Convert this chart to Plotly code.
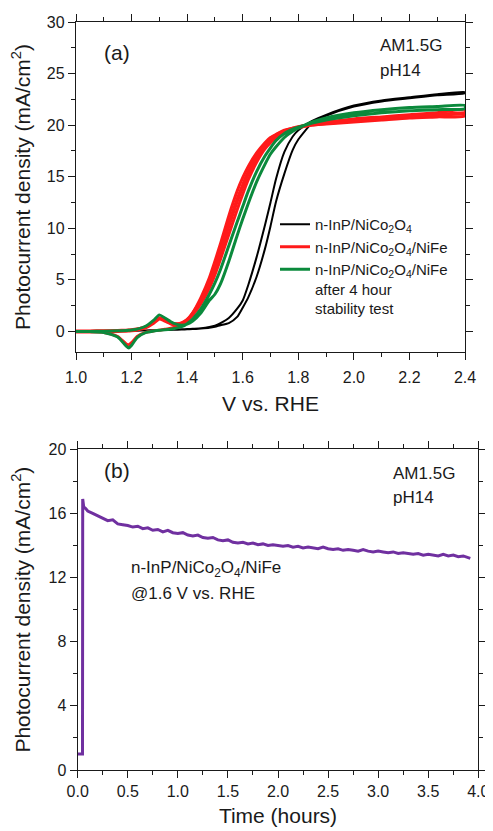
import plotly.graph_objects as go

# ---------------- data: panel (a) cyclic voltammograms ----------------
V_GRID = [1.00, 1.05, 1.10, 1.15, 1.18, 1.19, 1.20, 1.22, 1.25, 1.28, 1.30, 1.32,
          1.35, 1.38, 1.40, 1.42, 1.45, 1.48, 1.50, 1.52, 1.55, 1.58, 1.60, 1.62,
          1.65, 1.68, 1.70, 1.72, 1.75, 1.78, 1.80, 1.85, 1.90, 2.00, 2.10, 2.20,
          2.30, 2.40]

BLACK_FWD = [0.0, 0.0, 0.02, 0.04, 0.05, 0.05, 0.06, 0.07, 0.08, 0.10, 0.12, 0.13,
             0.15, 0.17, 0.20, 0.22, 0.28, 0.36, 0.45, 0.60, 0.80, 1.40, 2.30, 3.30,
             5.30, 8.00, 10.2, 12.6, 15.3, 17.6, 18.6, 20.2, 20.9, 21.8, 22.3, 22.6,
             22.9, 23.1]
BLACK_REV = [0.0, 0.0, 0.02, 0.04, 0.05, 0.05, 0.06, 0.07, 0.09, 0.11, 0.13, 0.15,
             0.17, 0.20, 0.22, 0.25, 0.30, 0.42, 0.55, 0.80, 1.30, 2.20, 3.00, 4.50,
             7.20, 10.3, 12.5, 14.8, 17.4, 18.9, 19.5, 20.4, 21.0, 21.9, 22.4, 22.7,
             23.0, 23.2]

RED_FWD = [0.0, 0.0, 0.02, 0.05, 0.08, 0.10, 0.12, 0.20, 0.40, 0.90, 1.30, 1.10,
           0.75, 0.80, 1.10, 1.60, 2.70, 4.20, 5.50, 7.00, 9.40, 11.8, 13.3, 14.7,
           16.4, 17.7, 18.3, 18.8, 19.3, 19.6, 19.8, 20.1, 20.3, 20.6, 20.8, 21.0,
           21.2, 21.5]
RED_MID = [0.0, 0.0, 0.01, 0.04, 0.07, 0.09, 0.11, 0.18, 0.38, 0.85, 1.25, 1.05,
           0.70, 0.78, 1.10, 1.70, 3.00, 4.70, 6.10, 7.70, 10.3, 12.7, 14.1, 15.4,
           16.9, 18.0, 18.6, 19.0, 19.4, 19.65, 19.8, 20.05, 20.2, 20.45, 20.65, 20.85,
           21.0, 21.15]
RED_REV = [0.0, -0.02, -0.10, -0.50, -1.20, -1.30, -1.10, -0.50, -0.10, 0.05, 0.12, 0.20,
           0.35, 0.70, 1.10, 1.80, 3.30, 5.20, 6.80, 8.50, 11.2, 13.6, 14.9, 16.0,
           17.3, 18.3, 18.8, 19.1, 19.5, 19.7, 19.8, 20.0, 20.1, 20.3, 20.5, 20.7,
           20.8, 20.9]

GREEN_FWD = [0.0, 0.0, 0.02, 0.05, 0.08, 0.10, 0.13, 0.22, 0.50, 1.10, 1.60, 1.30,
             0.80, 0.60, 0.70, 1.00, 1.80, 3.00, 3.60, 4.60, 6.80, 9.30, 10.9, 12.4,
             14.5, 16.2, 17.2, 17.9, 18.8, 19.4, 19.7, 20.3, 20.7, 21.2, 21.5, 21.7,
             21.8, 21.9]
GREEN_REV = [0.0, -0.02, -0.10, -0.55, -1.40, -1.60, -1.35, -0.60, -0.12, 0.03, 0.10, 0.15,
             0.25, 0.45, 0.75, 1.20, 2.20, 3.60, 4.70, 6.00, 8.30, 10.6, 12.1, 13.6,
             15.5, 17.0, 17.8, 18.5, 19.2, 19.6, 19.8, 20.2, 20.5, 20.9, 21.2, 21.4,
             21.5, 21.6]

LEGEND_NAMES = ["n-InP/NiCo<sub>2</sub>O<sub>4</sub>",
                "n-InP/NiCo<sub>2</sub>O<sub>4</sub>/NiFe",
                "n-InP/NiCo<sub>2</sub>O<sub>4</sub>/NiFe<br>after 4 hour<br>stability test"]

# ---------------- data: panel (b) stability test ----------------
T_HOURS = [0.00, 0.048, 0.05, 0.06, 0.08, 0.10, 0.15, 0.20, 0.25, 0.30, 0.35, 0.40,
           0.45, 0.50, 0.55, 0.60, 0.65, 0.70, 0.75, 0.80, 0.85, 0.90, 0.95, 1.00,
           1.05, 1.10, 1.15, 1.20, 1.25, 1.30, 1.35, 1.40, 1.45, 1.50, 1.55, 1.60,
           1.65, 1.70, 1.75, 1.80, 1.85, 1.90, 1.95, 2.00, 2.05, 2.10, 2.15, 2.20,
           2.25, 2.30, 2.35, 2.40, 2.45, 2.50, 2.55, 2.60, 2.65, 2.70, 2.75, 2.80,
           2.85, 2.90, 2.95, 3.00, 3.05, 3.10, 3.15, 3.20, 3.25, 3.30, 3.35, 3.40,
           3.45, 3.50, 3.55, 3.60, 3.65, 3.70, 3.75, 3.80, 3.85, 3.90, 3.92]
J_STAB = [1.0, 1.0, 16.9, 16.4, 16.3, 16.15, 16.0, 15.85, 15.75, 15.55, 15.6, 15.35,
          15.3, 15.25, 15.15, 15.2, 15.05, 15.1, 14.95, 15.0, 14.85, 14.95, 14.8, 14.75,
          14.8, 14.65, 14.6, 14.65, 14.5, 14.45, 14.5, 14.35, 14.3, 14.35, 14.2, 14.15,
          14.2, 14.1, 14.15, 14.05, 14.1, 14.0, 14.05, 14.0, 13.95, 14.0, 13.9, 13.95,
          13.85, 13.9, 13.85, 13.8, 13.9, 13.8, 13.75, 13.8, 13.7, 13.75, 13.7, 13.65,
          13.75, 13.65, 13.6, 13.65, 13.6, 13.55, 13.6, 13.5, 13.55, 13.5, 13.45, 13.5,
          13.4, 13.45, 13.4, 13.35, 13.45, 13.35, 13.4, 13.3, 13.35, 13.25, 13.2]

# ---------------- figure ----------------
PAGE_OFF = 8                      # default body margin of the html page
W, H = 493 - PAGE_OFF, 831 - PAGE_OFF
FONT = "Liberation Sans, Arial, sans-serif"
INK = "#1a1a1a"


def fx(p):
    return (p - PAGE_OFF) / W


def fy(p):
    return 1 - (p - PAGE_OFF) / H


BLACK, RED, GREEN, PURPLE = "#000000", "#ff1a1a", "#0b8a3c", "#7030a0"

fig = go.Figure()


def loop(fwd, rev):
    return V_GRID + V_GRID[::-1], fwd + rev[::-1]


x, y = loop(BLACK_FWD, BLACK_REV)
fig.add_trace(go.Scatter(x=x, y=y, mode="lines", name=LEGEND_NAMES[0],
                         line=dict(color=BLACK, width=2, shape="spline", smoothing=0.6),
                         xaxis="x", yaxis="y"))
x, y = loop(RED_FWD, RED_REV)
fig.add_trace(go.Scatter(x=x, y=y, mode="lines", name=LEGEND_NAMES[1],
                         line=dict(color=RED, width=3, shape="spline", smoothing=0.6),
                         xaxis="x", yaxis="y"))
fig.add_trace(go.Scatter(x=V_GRID, y=RED_MID, mode="lines", showlegend=False,
                         line=dict(color=RED, width=4, shape="spline", smoothing=0.6),
                         xaxis="x", yaxis="y"))
x, y = loop(GREEN_FWD, GREEN_REV)
fig.add_trace(go.Scatter(x=x, y=y, mode="lines", name=LEGEND_NAMES[2],
                         line=dict(color=GREEN, width=3, shape="spline", smoothing=0.6),
                         xaxis="x", yaxis="y"))

fig.add_trace(go.Scatter(x=T_HOURS, y=J_STAB, mode="lines", showlegend=False,
                         line=dict(color=PURPLE, width=3),
                         xaxis="x2", yaxis="y2"))

base = dict(showline=True, linecolor=INK, linewidth=1.3, mirror="allticks",
            ticks="outside", ticklen=7, tickwidth=1.3, tickcolor=INK,
            showgrid=False, zeroline=False, automargin=False,
            tickfont=dict(family=FONT, size=16, color=INK))
title_font = dict(family=FONT, size=21, color=INK)
ytitle = "Photocurrent density (mA/cm<sup>2</sup>)"


def minor(d):
    return dict(dtick=d, ticks="outside", ticklen=4, tickwidth=1.3, tickcolor=INK,
                showgrid=False)


fig.update_layout(
    width=W, height=H,
    margin=dict(l=0, r=0, t=0, b=0),
    paper_bgcolor="white", plot_bgcolor="white",
    font=dict(family=FONT, color=INK),
    showlegend=True,
    legend=dict(x=fx(275), y=fy(208), xanchor="left", yanchor="top",
                bgcolor="rgba(0,0,0,0)", font=dict(family=FONT, size=15, color=INK),
                valign="top"),
    xaxis=dict(domain=[fx(76), fx(465)], range=[1.0, 2.4], tick0=1.0, dtick=0.2,
               tickformat=".1f", anchor="y", minor=minor(0.1), ticklabelstandoff=4,
               title=dict(text="V vs. RHE", font=title_font, standoff=10), **base),
    yaxis=dict(domain=[fy(352), fy(22)], range=[-2, 30], tick0=0, dtick=5, anchor="x",
               minor=minor(2.5),
               title=dict(text=ytitle, font=title_font, standoff=12), **base),
    xaxis2=dict(domain=[fx(77.7), fx(478.3)], range=[0, 4], tick0=0, dtick=0.5,
                tickformat=".1f", anchor="y2", minor=minor(0.25),
                title=dict(text="Time (hours)", font=title_font, standoff=8), **base),
    yaxis2=dict(domain=[fy(770), fy(449.3)], range=[0, 20], tick0=0, dtick=4, anchor="x2",
                minor=minor(2),
                title=dict(text=ytitle, font=title_font, standoff=12), **base),
)


def note(text, x, y, size, xanchor="left"):
    fig.add_annotation(text=text, x=fx(x), y=fy(y), xref="paper", yref="paper",
                       xanchor=xanchor, yanchor="middle", showarrow=False,
                       font=dict(family=FONT, size=size, color=INK))


note("(a)", 102, 52, 21)
note("AM1.5G", 378, 45, 17)
note("pH14", 378, 70, 17)
note("(b)", 102, 470, 21)
note("AM1.5G", 391, 473, 17)
note("pH14", 391, 497, 17)
note("n-InP/NiCo<sub>2</sub>O<sub>4</sub>/NiFe", 129, 569, 17)
note("@1.6 V vs. RHE", 129, 593, 17)

fig.write_html("out.html")
